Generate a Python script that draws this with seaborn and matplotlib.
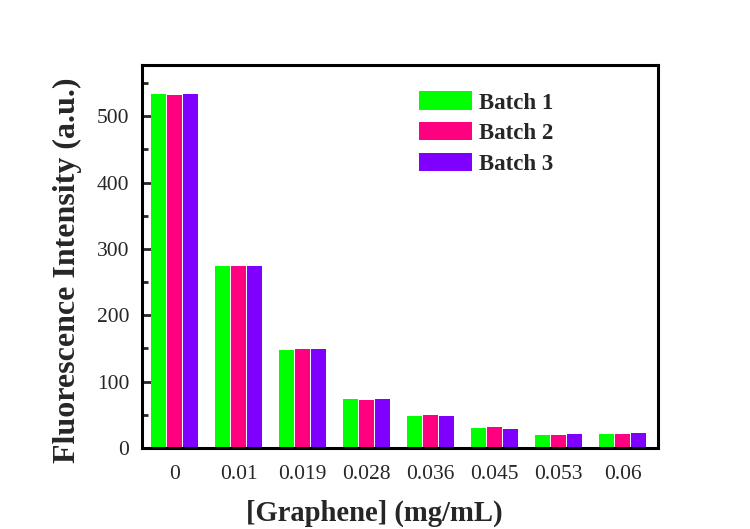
import matplotlib
matplotlib.use("Agg")
import matplotlib.pyplot as plt
from matplotlib.ticker import MultipleLocator
import seaborn as sns
import pandas as pd

concentrations = ["0", "0.01", "0.019", "0.028", "0.036", "0.045", "0.053", "0.06"]
batch1 = [533, 274, 148, 74, 48.7, 30.2, 19.6, 21.6]
batch2 = [532, 274, 149, 72.4, 49.7, 31.2, 19.1, 21.1]
batch3 = [534, 274, 149, 74.3, 47.8, 29.1, 20.6, 22.6]
batch_names = ["Batch 1", "Batch 2", "Batch 3"]
colors = ["#00FF00", "#FF0080", "#8000FF"]

rows = []
for name, vals in zip(batch_names, [batch1, batch2, batch3]):
    for c, v in zip(concentrations, vals):
        rows.append({"conc": c, "value": v, "batch": name})
df = pd.DataFrame(rows)

sns.set_style("white")
plt.rcParams["font.family"] = ["Liberation Serif", "DejaVu Serif"]

fig = plt.figure(figsize=(7.5, 5.29), dpi=100)
ax = fig.add_axes([0.1893, 0.1531, 0.8773 - 0.1893, 0.877 - 0.1531])
sns.barplot(data=df, x="conc", y="value", hue="batch", order=concentrations,
            hue_order=batch_names, palette=colors, width=0.75, gap=0.08,
            saturation=1, ax=ax, edgecolor="none", linewidth=0)

ax.set_xlim(-0.51, 7.55)
ax.set_ylim(0, 577)
ax.yaxis.set_major_locator(MultipleLocator(100))
ax.yaxis.set_minor_locator(MultipleLocator(50))
ax.tick_params(axis="y", which="major", direction="in", length=7, width=2,
               labelsize=15.5, pad=9, left=True)
ax.tick_params(axis="y", which="minor", direction="in", length=4, width=2, left=True)
ax.tick_params(axis="x", which="both", length=0, labelsize=15.5, pad=12)
for s in ax.spines.values():
    s.set_linewidth(2.2)
    s.set_color("black")
    s.set_visible(True)

ax.set_xlabel("[Graphene] (mg/mL)", fontsize=20.6, fontweight="bold")
ax.set_ylabel("Fluorescence Intensity (a.u.)", fontsize=23, fontweight="bold")
ax.xaxis.set_label_coords((374.5 - 142.3) / 516.0, -(513 - 448) / 383.0)
ax.yaxis.set_label_coords(-(142.3 - 68) / 516.0, (448 - 270.5) / 383.0)
ax.xaxis.label.set_va("center")
ax.yaxis.label.set_va("center")

leg = ax.legend(loc="upper left", bbox_to_anchor=(0.497, 0.985), frameon=False,
                prop={"weight": "bold", "size": 16.5}, handlelength=2.3,
                handleheight=0.85, labelspacing=0.38, handletextpad=0.3)

fig.savefig("out.png", dpi=100, facecolor="white")
